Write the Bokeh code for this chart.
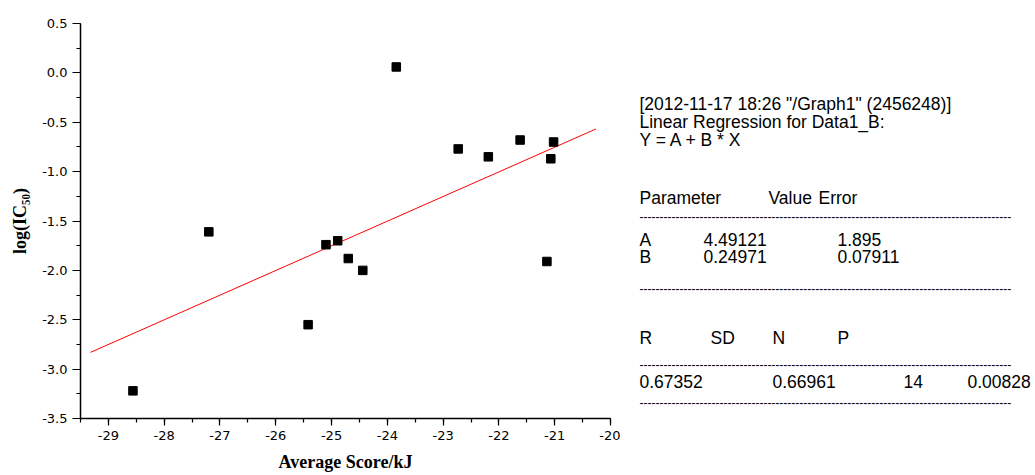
from bokeh.plotting import figure
from bokeh.layouts import row
from bokeh.models import Range1d, FixedTicker, PrintfTickFormatter, Label
from bokeh.embed import file_html
from bokeh.resources import INLINE

# ---- data ----
avg_score = [-28.56, -27.20, -25.42, -25.10, -24.89, -24.70, -24.44,
             -21.14, -23.84, -22.73, -22.19, -21.62, -21.02, -21.07]
log_ic50 = [-3.22, -1.61, -2.55, -1.74, -1.70, -1.88, -2.00,
            -1.91, 0.06, -0.77, -0.85, -0.68, -0.70, -0.87]
fit_a = 4.49121
fit_b = 0.24971
fit_x = [-29.32, -20.26]
fit_y = [fit_a + fit_b * x for x in fit_x]

x_ticks = [-29, -28, -27, -26, -25, -24, -23, -22, -21, -20]
x_minor = [-29.5 + 0.5 * i for i in range(20)]
y_ticks = [-3.5, -3.0, -2.5, -2.0, -1.5, -1.0, -0.5, 0.0, 0.5]
y_minor = [-3.5 + 0.25 * i for i in range(17)]

header_lines = ['[2012-11-17 18:26 "/Graph1" (2456248)]',
                'Linear Regression for Data1_B:',
                'Y = A + B * X']
param_header = ["Parameter", "Value", "Error"]
param_rows = [["A", "4.49121", "1.895"], ["B", "0.24971", "0.07911"]]
stat_header = ["R", "SD", "N", "P"]
stat_values = ["0.67352", "0.66961", "14", "0.00828"]

# ---- layout ----
TOTAL_W, H = 1035, 475
W1 = 620                      # chart panel width
FL, FT, FR, FB = 80, 23, 610, 418   # frame edges in page px

p = figure(width=W1, height=H, output_backend="svg", toolbar_location=None,
           x_range=Range1d(-29.5, -20), y_range=Range1d(-3.5, 0.5),
           min_border_left=FL, min_border_top=FT,
           min_border_right=W1 - FR, min_border_bottom=H - FB)
p.outline_line_color = None
p.xgrid.visible = False
p.ygrid.visible = False

for ax in (p.xaxis[0], p.yaxis[0]):
    ax.axis_line_width = 1.5
    ax.axis_line_color = "black"
    ax.major_tick_line_color = "black"
    ax.minor_tick_line_color = "black"
    ax.major_tick_line_width = 1.2
    ax.minor_tick_line_width = 1.2
    ax.major_tick_in = 0
    ax.minor_tick_in = 0
    ax.major_label_text_font = "DejaVu Sans"
    ax.major_label_text_font_size = "13px"
    ax.major_label_text_color = "black"
    ax.axis_label_text_font = "Liberation Serif"
    ax.axis_label_text_font_style = "bold"
    ax.axis_label_text_font_size = "18px"
    ax.axis_label_text_color = "black"

p.xaxis.ticker = FixedTicker(ticks=x_ticks, minor_ticks=x_minor)
p.yaxis.ticker = FixedTicker(ticks=y_ticks, minor_ticks=y_minor)
p.xaxis.formatter = PrintfTickFormatter(format="%d")
p.yaxis.formatter = PrintfTickFormatter(format="%.1f")
p.xaxis.major_tick_out = 7
p.xaxis.minor_tick_out = 4
p.yaxis.major_tick_out = 8
p.yaxis.minor_tick_out = 4
p.xaxis.major_label_standoff = 5
p.yaxis.major_label_standoff = 5
p.xaxis.axis_label = "Average Score/kJ"
p.yaxis.axis_label = "log(IC\u2085\u2080)"
p.xaxis.axis_label_standoff = 9
p.yaxis.axis_label_standoff = 9

p.line(fit_x, fit_y, line_color="#ff0000", line_width=1)
p.scatter(avg_score, log_ic50, marker="square", size=8.5,
          fill_color="black", line_color="black")

# ---- regression report panel (frame aligned with the chart frame) ----
W2 = TOTAL_W - W1
q = figure(width=W2, height=H, output_backend="svg", toolbar_location=None,
           x_range=Range1d(0, W2), y_range=Range1d(0, FB - FT),
           x_axis_location=None, y_axis_location=None,
           min_border_left=0, min_border_right=0,
           min_border_top=FT, min_border_bottom=H - FB)
q.outline_line_color = None
q.xgrid.visible = False
q.ygrid.visible = False


def add_text(img_x, img_y, txt, size="17.5px"):
    q.add_layout(Label(x=img_x - W1, y=FB - img_y, x_units="screen",
                       y_units="screen", text=txt,
                       text_font="Liberation Sans",
                       text_font_size=size, text_align="left",
                       text_baseline="middle", text_color="black"))


dashes = "-" * 93
for txt, yy in zip(header_lines, [103, 121, 139]):
    add_text(639, yy, txt)
for txt, xx in zip(param_header, [639, 768, 818]):
    add_text(xx, 197, txt)
add_text(639, 216, dashes, "12px")
for rr, yy in zip(param_rows, [239, 256]):
    for txt, xx in zip(rr, [639, 703, 837]):
        add_text(xx, yy, txt)
add_text(639, 288, dashes, "12px")
for txt, xx in zip(stat_header, [639, 710, 772, 837]):
    add_text(xx, 337, txt)
add_text(639, 364, dashes, "12px")
for txt, xx in zip(stat_values, [639, 772, 903, 967]):
    add_text(xx, 381, txt)
add_text(639, 402, dashes, "12px")

layout = row(p, q, spacing=0)
open("out.html", "w").write(file_html(layout, INLINE))
